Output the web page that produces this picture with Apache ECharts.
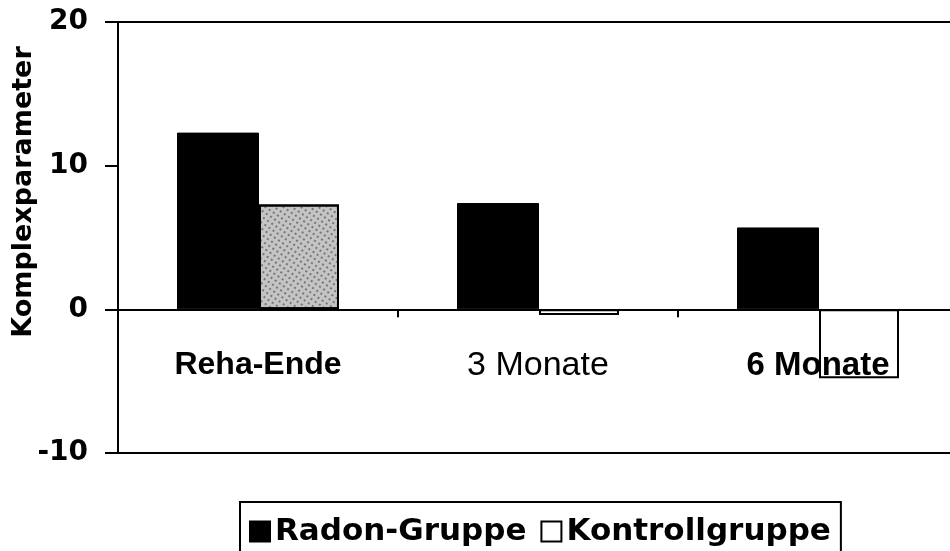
<!DOCTYPE html>
<html>
<head>
<meta charset="UTF-8">
<title>Komplexparameter</title>
<script src="https://cdn.jsdelivr.net/npm/echarts@6/dist/echarts.min.js"></script>
<style>
  html, body { margin: 0; padding: 0; background: #fff; }
  #main { width: 950px; height: 551px; }
</style>
</head>
<body>
<div id="main"></div>
<script>
// values
var categories = ['Reha-Ende', '3 Monate', '6 Monate'];
var radon = [12.3, 7.4, 5.7];
var kontroll = [7.3, -0.4, -4.8];
var yTicks = [-10, 0, 10, 20];

var myChart = echarts.init(document.getElementById('main'));

var labelSize = [32, 34, 33];

var kontrollData = kontroll.map(function (v, i) {
  if (i === 0) {
    // first control bar is stippled grey in the scan
    return {
      value: v,
      itemStyle: {
        color: '#c4c4c4',
        decal: {
          symbol: 'rect',
          symbolSize: 0.7,
          color: '#333',
          dashArrayX: [2, 3],
          dashArrayY: [2, 3],
          rotation: 0.6
        }
      }
    };
  }
  return v;
});

var option = {
  animation: false,
  backgroundColor: '#fff',
  textStyle: { fontFamily: 'DejaVu Sans', color: '#000' },
  grid: {
    left: 118, top: 22, width: 840, bottom: 98,
    outerBoundsMode: 'none',
    containLabel: false,
    show: true, borderColor: '#000', borderWidth: 2
  },
  graphic: [{
    type: 'text',
    x: 24, y: 192,
    rotation: Math.PI / 2,
    style: {
      text: 'Komplexparameter',
      font: 'bold 27px "DejaVu Sans"',
      fill: '#000',
      align: 'center',
      verticalAlign: 'middle'
    }
  }],
  legend: {
    left: 240, top: 502,
    padding: [14, 10, 20, 9],
    borderColor: '#000', borderWidth: 2,
    itemWidth: 20, itemHeight: 20,
    itemGap: 14,
    icon: 'rect',
    textStyle: { fontSize: 31, fontWeight: 'bold', color: '#000', fontFamily: 'DejaVu Sans' },
    data: ['Radon-Gruppe', 'Kontrollgruppe']
  },
  xAxis: {
    type: 'category',
    z: 5,
    data: categories.map(function (c, i) {
      return {
        value: c,
        textStyle: {
          fontWeight: i === 1 ? 'normal' : 'bold',
          fontFamily: 'Liberation Sans',
          fontSize: labelSize[i],
          color: '#000'
        }
      };
    }),
    axisLine: { onZero: true, lineStyle: { color: '#000', width: 2 } },
    axisTick: { show: true, length: 8, lineStyle: { color: '#000', width: 2 } },
    axisLabel: { margin: -104 }
  },
  yAxis: {
    type: 'value',
    min: yTicks[0], max: yTicks[yTicks.length - 1], interval: 10,
    axisLine: { show: true, lineStyle: { color: '#000', width: 2 } },
    axisTick: { show: true, length: 13, lineStyle: { color: '#000', width: 2 } },
    splitLine: { show: false },
    axisLabel: { fontSize: 28, fontWeight: 'bold', color: '#000', margin: 30, fontFamily: 'DejaVu Sans' }
  },
  series: [
    {
      name: 'Radon-Gruppe',
      type: 'bar',
      barWidth: 82,
      barGap: '0%',
      itemStyle: { color: '#000', borderColor: '#000', borderWidth: 1 },
      data: radon
    },
    {
      name: 'Kontrollgruppe',
      type: 'bar',
      barWidth: 80,
      barGap: '0%',
      itemStyle: { color: '#fff', borderColor: '#000', borderWidth: 2 },
      data: kontrollData
    }
  ]
};
myChart.setOption(option);
</script>
</body>
</html>
